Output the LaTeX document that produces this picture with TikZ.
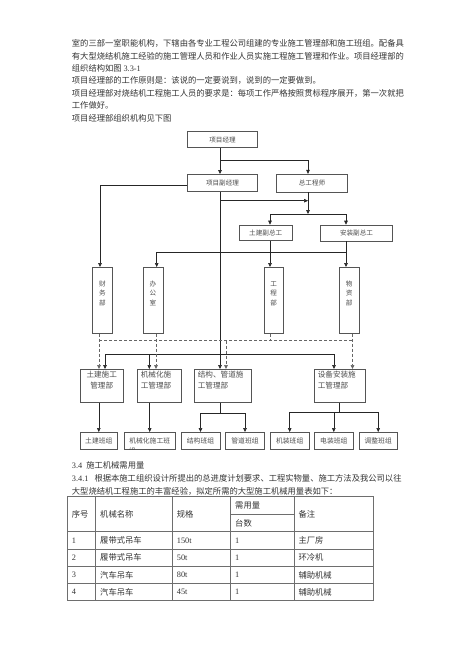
\documentclass[tikz,border=0pt]{standalone}
\usepackage{fontspec}
\setmainfont{Liberation Serif}
\newfontfamily\cjk{Noto Sans CJK SC}
\usetikzlibrary{arrows.meta,positioning,calc}
\definecolor{ink}{HTML}{333333}
\definecolor{rule}{HTML}{555555}
\definecolor{grid}{HTML}{6E6E6E}
\newcommand\tnr[1]{{\rmfamily #1}}

\begin{document}
\begin{tikzpicture}[x=1pt,y=-1pt,>={Triangle[length=4pt,width=3.6pt]},
txt/.style={anchor=west,inner sep=0pt,font=\fontsize{8.3}{10}\cjk,text=ink},
box/.style={draw=rule,line width=0.6pt,inner sep=0pt,font=\fontsize{6.6}{9}\cjk,text=black!70,align=center},
vbox/.style={box,font=\fontsize{6.6}{9.4}\cjk,minimum width=19.6pt,text height=38pt,text depth=28pt},
mbox/.style={box,font=\fontsize{7.6}{11}\cjk,inner xsep=3.5pt,text height=8.5pt,text depth=24.5pt},
gbox/.style={box,font=\fontsize{6.8}{9}\cjk,minimum height=17pt},
l/.style={line width=0.6pt,draw=black!85},
a/.style={l,->},
d/.style={line width=0.5pt,draw=black!60,densely dashed},
da/.style={d,->},
tl/.style={draw=grid,line width=0.9pt}]
\useasboundingbox (0,0) rectangle (474,670);

% text above the chart
\node[txt] (p1) at (71.7,43.3) {室的三部一室职能机构，下辖由各专业工程公司组建的专业施工管理部和施工班组。配备具};
\node[txt] (p2) at (71.7,56.3) {有大型烧结机施工经验的施工管理人员和作业人员实施工程施工管理和作业。项目经理部的};
\node[txt] (p3) at (71.7,68.7) {组织结构如图 \tnr{3.3-1}};
\node[txt] (p4) at (71.7,80.3) {项目经理部的工作原则是：该说的一定要说到，说到的一定要做到。};
\node[txt] (p5) at (71.7,93.3) {项目经理部对烧结机工程施工人员的要求是：每项工作严格按照贯标程序展开，第一次就把};
\node[txt] (p6) at (71.7,105.5) {工作做好。};
\node[txt] (p7) at (71.7,118) {项目经理部组织机构见下图};

% chart boxes
\node[box,minimum width=69.6pt,minimum height=15.6pt] (xmjl) at (222.5,139.5) {项目经理};
\node[box,minimum width=69.6pt,minimum height=17.4pt] (fjl) at (222.5,183) {项目副经理};
\node[box,minimum width=70.6pt,minimum height=17.7pt] (zgcs) at (312,183) {总工程师};
\node[box,minimum width=53.3pt,minimum height=15.7pt] (tjfz) at (265.7,232.8) {土建副总工};
\node[box,minimum width=71.6pt,minimum height=16pt] (azfz) at (356.5,233) {安装副总工};
\node[vbox] (cwb) at (102.3,300.3) {财\\务\\部};
\node[vbox] (bgs) at (153,300.3) {办\\公\\室};
\node[vbox] (gcb) at (273.7,300.3) {工\\程\\部};
\node[vbox] (wzb) at (349.2,300.3) {物\\资\\部};
\node[mbox,text width=36.3pt,align=center] (tjsg) at (101.7,385.8) {土建施工\\管理部};
\node[mbox,text width=37.4pt,align=left] (jxsg) at (159.5,385.8) {机械化施\\工管理部};
\node[mbox,text width=49.7pt,align=left] (jgsg) at (222.7,385.8) {结构、管道施\\工管理部};
\node[mbox,text width=44.4pt,align=left] (sbsg) at (340,385.8) {设备安装施\\工管理部};
\node[gbox,minimum width=37.7pt] (tjbz) at (98.8,440.8) {土建班组};
\node[gbox,minimum width=50.7pt] (jxbz) at (149.7,440.8) {机械化施工班};
\begin{scope}
\clip (jxbz.south west) rectangle (jxbz.north east);
\node[anchor=west,inner sep=0pt,font=\fontsize{6.8}{9}\cjk,text=black!70] (jxbzz) at ($(jxbz.west)+(4.7,9.8)$) {组};
\end{scope}
\node[gbox,minimum width=39pt] (jgbz) at (200.5,440.8) {结构班组};
\node[gbox,minimum width=38.6pt] (gdbz) at (245,440.8) {管道班组};
\node[gbox,minimum width=39.3pt] (jzbz) at (289.7,440.8) {机装班组};
\node[gbox,minimum width=39pt] (dzbz) at (333.8,440.8) {电装班组};
\node[gbox,minimum width=38.3pt] (tzbz) at (378.2,440.8) {调整班组};

% solid connectors
\coordinate (sp) at (220,0);
\coordinate (k1) at (220,160.7); \coordinate (k2) at (308,160.7);
\coordinate (k3) at (220,200.7); \coordinate (k4) at (308,200.7);
\coordinate (k5) at (308,214); \coordinate (k6) at (270,214); \coordinate (k7) at (346,214);
\coordinate (k8) at (346,252.7); \coordinate (k9) at (156.7,252.7);
\coordinate (k10) at (100,185.7);
\draw[a] (sp |- xmjl.south) -- (sp |- fjl.north);
\draw[a] (k1) -- (k2) -- (k2 |- zgcs.north);
\draw[a] (sp |- fjl.south) -- (sp |- jgsg.north);
\draw[a] (k3) -- (k4);
\draw[a] (k2 |- zgcs.south) -- (k5);
\draw[a] (k5) -- (k6) -- (k6 |- tjfz.north);
\draw[a] (k5) -- (k7) -- (k7 |- azfz.north);
\draw[a] (k6 |- tjfz.south) -- (k6 |- gcb.north);
\draw[a] (k7 |- azfz.south) -- (k7 |- wzb.north);
\draw[a] (k8) -- (k9) -- (k9 |- bgs.north);
\draw[a] (k10 -| fjl.west) -- (k10) -- (k10 |- cwb.north);
\coordinate (m1) at (105,354.3); \coordinate (m2) at (149.3,354.3); \coordinate (m4) at (334,354.3);
\draw[l] (m1) -- (m4);
\draw[a] (m1) -- (m1 |- tjsg.north);
\draw[a] (m2) -- (m2 |- jxsg.north);
\draw[a] (m4) -- (m4 |- sbsg.north);

% dashed links
\coordinate (d1) at (99,340.7); \coordinate (d2) at (156,340.7); \coordinate (d3) at (270,340.7);
\coordinate (d4) at (352.5,340.7); \coordinate (d5) at (226,340.7);
\draw[d] (d1) -- (d4);
\draw[da] (d1 |- cwb.south) -- (d1 |- tjsg.north);
\draw[da] (d2 |- bgs.south) -- (d2 |- jxsg.north);
\draw[d] (d3 |- gcb.south) -- (d3);
\draw[da] (d4 |- wzb.south) -- (d4 |- sbsg.north);
\draw[da] (d5) -- (d5 |- jgsg.north);

% teams
\coordinate (n1) at (220,413.3); \coordinate (n2) at (339.5,412.5);
\draw[a] (tjsg.south -| tjbz.north) -- (tjbz.north);
\draw[a] (jxsg.south -| jxbz.north) -- (jxbz.north);
\draw[l] (jgsg.south -| n1) -- (n1);
\draw[a] (n1) -| (jgbz.north);
\draw[a] (n1) -| (gdbz.north);
\draw[l] (sbsg.south -| n2) -- (n2);
\draw[a] (n2) -| (jzbz.north);
\draw[a] (n2) -| (tzbz.north);
\draw[a] (n2 -| dzbz.north) -- (dzbz.north);

% text below the chart
\node[txt] (s1) at (71.7,465.7) {\tnr{3.4}\hspace{4pt}施工机械需用量};
\node[txt] (s2) at (71.7,478.3) {\tnr{3.4.1}\hspace{6pt}根据本施工组织设计所提出的总进度计划要求、工程实物量、施工方法及我公司以往};
\node[txt] (s3) at (71.7,491) {大型烧结机工程施工的丰富经验，拟定所需的大型施工机械用量表如下：};

% table
\draw[tl] (67.7,496.7) rectangle (373.3,600.7);
\foreach \x in {95.7,172.7,230,294.3} \draw[tl] (\x,496.7) -- (\x,600.7);
\foreach \y in {531.7,549,566.7,583.3} \draw[tl] (67.7,\y) -- (373.3,\y);
\draw[tl] (230,514.3) -- (294.3,514.3);
\node[txt] (h1) at (71.7,514) {序号};
\node[txt] (h2) at (100,514) {机械名称};
\node[txt] (h3) at (176.7,514) {规格};
\node[txt] (h4) at (235,505.5) {需用量};
\node[txt] (h5) at (235,523) {台数};
\node[txt] (h6) at (298.3,514) {备注};
\foreach \nm/\gg/\bz [count=\r] in {履带式吊车/150t/主厂房,履带式吊车/50t/环冷机,汽车吊车/80t/辅助机械,汽车吊车/45t/辅助机械}{
  \node[txt] (r\r-a) at (71.7,523+17.3*\r) {\tnr{\r}};
  \node[txt] (r\r-b) at (100,523+17.3*\r) {\nm};
  \node[txt] (r\r-c) at (176.7,523+17.3*\r) {\tnr{\gg}};
  \node[txt] (r\r-d) at (235,523+17.3*\r) {\tnr{1}};
  \node[txt] (r\r-e) at (298.3,523+17.3*\r) {\bz};
}
\end{tikzpicture}
\end{document}
